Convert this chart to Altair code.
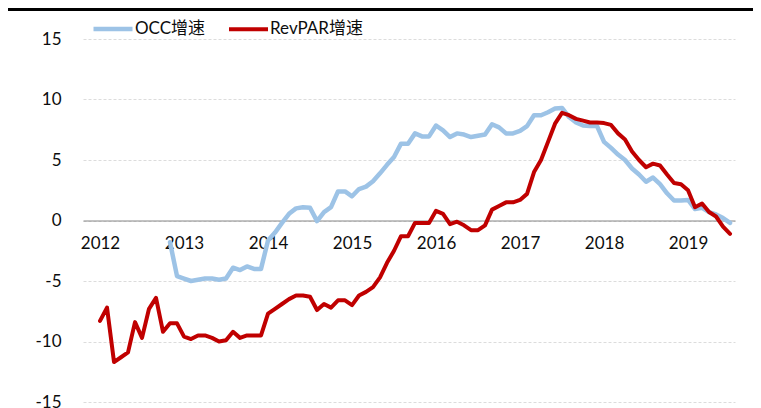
import altair as alt
import pandas as pd

# ---- data (monthly, year-on-year growth, %) ----
revpar_start = "2012-01"
revpar = [
    -8.3, -7.2, -11.7, -11.3, -10.9, -8.4, -9.7, -7.3, -6.4, -9.2, -8.5, -8.5,
    -9.6, -9.8, -9.5, -9.5, -9.7, -10.0, -9.9, -9.2, -9.7, -9.5, -9.5, -9.5,
    -7.7, -7.3, -6.9, -6.5, -6.2, -6.2, -6.3, -7.4, -6.9, -7.2, -6.6, -6.6,
    -7.0, -6.2, -5.9, -5.5, -4.7, -3.5, -2.5, -1.3, -1.3, -0.2, -0.2, -0.2,
    0.8, 0.55, -0.3, -0.1, -0.4, -0.8, -0.8, -0.4, 0.9, 1.2, 1.5, 1.5,
    1.7, 2.2, 4.0, 5.0, 6.5, 8.0, 8.9, 8.7, 8.4, 8.25, 8.1, 8.1,
    8.05, 7.9, 7.2, 6.7, 5.7, 5.0, 4.4, 4.7, 4.55, 3.8, 3.1, 3.0,
    2.5, 1.1, 1.4, 0.7, 0.33, -0.5, -1.1,
]
occ_start = "2012-11"
occ = [
    -1.8, -4.6,
    -4.8, -5.0, -4.9, -4.8, -4.8, -4.9, -4.8, -3.9, -4.1, -3.8, -4.0, -4.0,
    -1.65, -1.0, -0.2, 0.55, 1.0, 1.1, 1.05, -0.05, 0.7, 1.1, 2.4, 2.4,
    2.0, 2.6, 2.8, 3.25, 3.9, 4.6, 5.25, 6.35, 6.35, 7.2, 6.95, 6.95,
    7.85, 7.45, 6.9, 7.2, 7.1, 6.9, 7.0, 7.1, 7.95, 7.7, 7.2, 7.2,
    7.4, 7.8, 8.7, 8.7, 8.95, 9.25, 9.3, 8.55, 8.1, 7.85, 7.8, 7.8,
    6.5, 6.0, 5.45, 5.0, 4.3, 3.8, 3.2, 3.55, 3.0, 2.25, 1.65, 1.65,
    1.7, 0.95, 1.05, 0.7, 0.5, 0.2, -0.2,
]
series_names = ["OCC增速", "RevPAR增速"]
series_colors = ["#9DC3E6", "#C00000"]
year_labels = [2012, 2013, 2014, 2015, 2016, 2017, 2018, 2019]
y_ticks = [-15, -10, -5, 0, 5, 10, 15]
base_year = 2012


def month_index(periods):
    return [(p.year - base_year) * 12 + p.month - 1 for p in periods]


rev_periods = pd.period_range(revpar_start, periods=len(revpar), freq="M")
occ_periods = pd.period_range(occ_start, periods=len(occ), freq="M")
df = pd.concat([
    pd.DataFrame({"m": month_index(occ_periods), "v": occ, "s": series_names[0]}),
    pd.DataFrame({"m": month_index(rev_periods), "v": revpar, "s": series_names[1]}),
])

font = "Lato, Noto Sans CJK SC, sans-serif"

lines = alt.Chart(df).mark_line(strokeJoin="round", strokeCap="round").encode(
    x=alt.X(
        "m:Q",
        scale=alt.Scale(domain=[-2.43, 90.71], nice=False, zero=False),
        axis=alt.Axis(
            values=[(y - base_year) * 12 for y in year_labels],
            labelExpr="'' + (%d + datum.value / 12)" % base_year,
            offset=-181.5,
            domainColor="#878787",
            domainWidth=1,
            ticks=False,
            grid=False,
            labelPadding=15,
            labelFont=font,
            labelFontSize=17,
            labelColor="#0d0d0d",
            title=None,
            zindex=0,
        ),
    ),
    y=alt.Y(
        "v:Q",
        scale=alt.Scale(domain=[-15, 15], nice=False),
        axis=alt.Axis(
            values=y_ticks,
            labelExpr="'' + datum.value",
            domain=False,
            ticks=False,
            labelPadding=22,
            grid=True,
            gridDash=[3, 2],
            gridColor="#dcdcdc",
            gridWidth=1,
            labelFont=font,
            labelFontSize=17,
            labelColor="#0d0d0d",
            title=None,
        ),
    ),
    color=alt.Color(
        "s:N",
        scale=alt.Scale(domain=series_names, range=series_colors),
        legend=alt.Legend(
            orient="none",
            legendX=8,
            legendY=-32,
            direction="horizontal",
            symbolType="stroke",
            symbolSize=1521,
            symbolStrokeWidth=4,
            labelFont=font,
            labelFontSize=17,
            labelColor="#0d0d0d",
            labelOffset=0,
            columnPadding=15,
            padding=0,
            title=None,
        ),
    ),
    strokeWidth=alt.StrokeWidth(
        "s:N", scale=alt.Scale(domain=series_names, range=[4.5, 4]), legend=None
    ),
)

top_rule = alt.Chart(pd.DataFrame({"a": [0]})).mark_rule(
    color="#000000", strokeWidth=3, clip=False
).encode(x=alt.value(-80), x2=alt.value(680), y=alt.value(-29.5))

chart = alt.layer(top_rule, lines).properties(
    width=652,
    height=363,
    autosize=alt.AutoSizeParams(type="none"),
    padding={"left": 75, "top": 31, "right": 18, "bottom": 6},
).configure_view(stroke=None)

chart.save("out.html", embed_options={"renderer": "svg", "actions": False})
